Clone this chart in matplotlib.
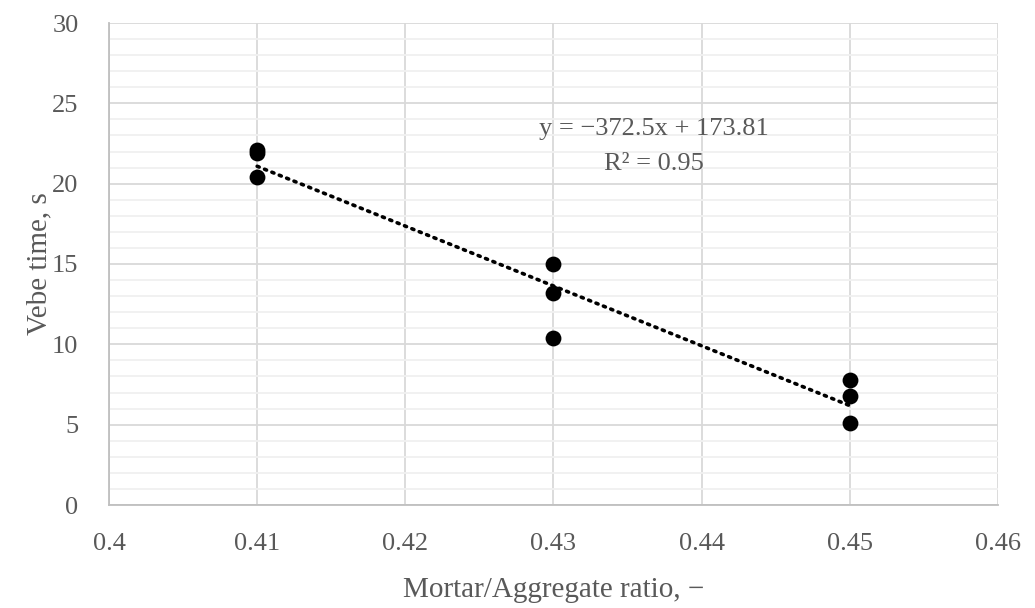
import matplotlib
matplotlib.use('Agg')
import numpy as np
import matplotlib.pyplot as plt
from matplotlib.ticker import MultipleLocator

# data
ratio = [0.41, 0.41, 0.41, 0.43, 0.43, 0.43, 0.45, 0.45, 0.45]
vebe = [22.1, 21.9, 20.4, 15.0, 13.2, 10.4, 7.8, 6.8, 5.1]
xticks = [0.40, 0.41, 0.42, 0.43, 0.44, 0.45, 0.46]
xtick_labels = ['0.4', '0.41', '0.42', '0.43', '0.44', '0.45', '0.46']
eq_text = 'y = \u2212372.5x + 173.81'
r2_text = 'R\u00b2 = 0.95'

plt.rcParams['font.family'] = ['Liberation Serif', 'DejaVu Serif']
grey = '#595959'

fig = plt.figure(figsize=(10.35, 6.08), dpi=100)
ax = fig.add_axes([109 / 1035, 1 - 505 / 608, (998 - 109) / 1035, (505 - 23) / 608])

x = np.array(ratio)
y = np.array(vebe)
slope, intercept = np.polyfit(x, y, 1)
xl = np.array([x.min(), x.max()])
ax.plot(xl, slope * xl + intercept, color='black', lw=2.6, ls=(0, (0.6, 1.6)),
        dash_capstyle='round', zorder=3)
ax.scatter(x, y, s=130, color='black', zorder=4, linewidths=0)

ax.set_xlim(0.4, 0.46)
ax.set_ylim(0, 30)
ax.set_xticks(xticks)
ax.set_xticklabels(xtick_labels)
ax.yaxis.set_major_locator(MultipleLocator(5))
ax.yaxis.set_minor_locator(MultipleLocator(1))
ax.grid(which='major', color='#d9d9d9', lw=1.3, zorder=0)
ax.grid(which='minor', axis='y', color='#f0f0f0', lw=1.3, zorder=0)
ax.set_axisbelow(True)
for s in ['top', 'right']:
    ax.spines[s].set_visible(False)
for s in ['left', 'bottom']:
    ax.spines[s].set_color('#bfbfbf')
    ax.spines[s].set_linewidth(1.3)
ax.tick_params(which='both', length=0, labelsize=19, colors=grey)
ax.tick_params(axis='y', pad=22)
ax.tick_params(axis='x', pad=20)

ax.set_xlabel('Mortar/Aggregate ratio, \u2212', fontsize=21, color=grey, labelpad=16)
ax.set_ylabel('Vebe time, s', fontsize=21, color=grey, labelpad=0)

ax.text(0.4368, 23.4, eq_text, fontsize=19, color=grey, ha='center', va='center')
ax.text(0.4368, 21.2, r2_text, fontsize=19, color=grey, ha='center', va='center')

fig.savefig('out.png', dpi=100)
